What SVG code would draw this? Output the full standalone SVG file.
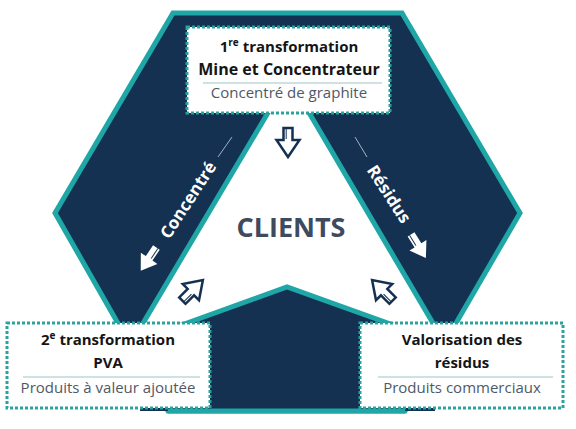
<svg xmlns="http://www.w3.org/2000/svg" width="576" height="429" viewBox="0 0 576 429">
<defs>
<style>
.navy{fill:#143152}
.teal{stroke:#1fa6a6;stroke-width:5;stroke-linejoin:miter}
.box{fill:#ffffff;stroke:#2aa3a0;stroke-width:3;stroke-dasharray:3 2}
.sep{stroke:#9cc5c8;stroke-width:1}
.t{font-family:"Open Sans","Liberation Sans",sans-serif;font-weight:bold;font-size:15px;fill:#151515;text-anchor:middle}
.s{font-family:"Open Sans","Liberation Sans",sans-serif;font-size:15px;fill:#4f5966;text-anchor:middle}
.band{font-family:"Open Sans","Liberation Sans",sans-serif;font-weight:bold;font-size:17px;fill:#ffffff;text-anchor:middle}
.thin{stroke:#9fb2c4;stroke-width:1}
</style>
<path id="wArrow" d="M-4,-15 L4,-15 L4,-2 L10,-2 L0,13 L-10,-2 L-4,-2 Z"/>
<path id="oArrow" d="M-4.5,-15 L4.5,-15 L4.5,-3 L11.5,-3 L0,14 L-11.5,-3 L-4.5,-3 Z"/>
</defs>
<rect width="576" height="429" fill="#ffffff"/>
<g id="background">
<polygon class="navy teal" points="173,13 402,13 520,213 405,411 168,411 55,213"/>
<polygon fill="#ffffff" class="teal" points="288.6,78 437,330 139,330"/>
<polygon class="navy" points="287,287 140,340 140,411 435,411 435,340"/>
<polyline fill="none" class="teal" points="140,340 287,287 435,340"/>
<line x1="168" y1="411" x2="405" y2="411" class="teal"/>
<line class="thin" x1="218" y1="157" x2="232" y2="137"/>
<line class="thin" x1="355" y1="137" x2="367" y2="157"/>
<text class="band" transform="translate(188,200) rotate(-57)" y="6">Concentré</text>
<text class="band" transform="translate(389,194) rotate(57)" y="6">Résidus</text>
</g>
<g id="connectors">
<g transform="translate(148,260) rotate(34)"><use href="#wArrow" fill="#ffffff"/><line x1="1.8" y1="-15" x2="1.8" y2="-3" stroke="#143152" stroke-width="1"/></g>
<g transform="translate(419,247) rotate(-32)"><use href="#wArrow" fill="#ffffff"/><line x1="-1.8" y1="-15" x2="-1.8" y2="-3" stroke="#143152" stroke-width="1"/></g>
<g transform="translate(288,143)"><use href="#oArrow" fill="#ffffff" stroke="#143152" stroke-width="2.5" stroke-linejoin="miter"/><line x1="-1.8" y1="-15" x2="-1.8" y2="-4" stroke="#143152" stroke-width="1"/></g>
<g transform="translate(193,290) rotate(-135)"><use href="#oArrow" fill="#ffffff" stroke="#143152" stroke-width="2.5" stroke-linejoin="miter"/><line x1="-1.8" y1="-15" x2="-1.8" y2="-4" stroke="#143152" stroke-width="1"/></g>
<g transform="translate(382,290) rotate(135)"><use href="#oArrow" fill="#ffffff" stroke="#143152" stroke-width="2.5" stroke-linejoin="miter"/><line x1="1.8" y1="-15" x2="1.8" y2="-4" stroke="#143152" stroke-width="1"/></g>
</g>
<g id="clients">
<text x="291" y="237" font-family="'Open Sans','Liberation Sans',sans-serif" font-weight="bold" font-size="27" fill="#3e4a5e" text-anchor="middle">CLIENTS</text>
</g>
<g id="node-top">
<rect class="box" x="187" y="27" width="203" height="86"/>
<text class="t" x="289" y="52">1<tspan font-size="10" dy="-6">re</tspan><tspan dy="6"> transformation</tspan></text>
<text class="t" x="289" y="75" style="font-size:16px">Mine et Concentrateur</text>
<line class="sep" x1="203" y1="83" x2="382" y2="83"/>
<text class="s" x="289" y="98">Concentré de graphite</text>
</g>
<g id="node-left">
<rect class="box" x="7" y="323" width="203" height="85"/>
<text class="t" x="108" y="345">2<tspan font-size="10" dy="-6">e</tspan><tspan dy="6"> transformation</tspan></text>
<text class="t" x="108" y="368">PVA</text>
<line class="sep" x1="23" y1="377" x2="200" y2="377"/>
<text class="s" x="108" y="393">Produits à valeur ajoutée</text>
</g>
<g id="node-right">
<rect class="box" x="360" y="323" width="203" height="85"/>
<text class="t" x="462" y="345">Valorisation des</text>
<text class="t" x="462" y="368">résidus</text>
<line class="sep" x1="378" y1="377" x2="553" y2="377"/>
<text class="s" x="462" y="393">Produits commerciaux</text>
</g>
</svg>
